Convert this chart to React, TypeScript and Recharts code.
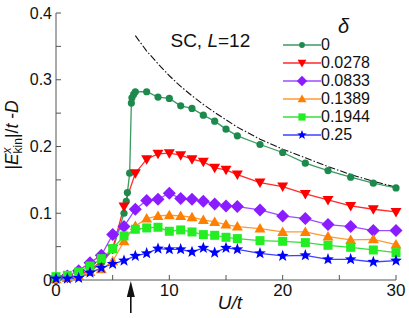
import React from "react";
import { LineChart, Line, XAxis, YAxis, Legend, ReferenceDot } from "recharts";

// U/t grid used by most doping levels
const U_GRID = [0, 1, 2, 3, 4, 5, 6, 7, 8, 9, 10, 11, 12, 13, 14, 15, 16, 18, 20, 22, 24, 26, 28, 30];
// half filling has extra points around the jump
const U_HALF = [0, 1, 2, 3, 4, 5, 6, 6.2, 6.3, 6.5, 6.65, 6.7, 6.85, 7, 8, 9, 10, 11, 12, 13, 14, 15, 16, 18, 20, 22, 24, 26, 28, 30];
const U_LIMIT = [7, 8, 9, 10, 11, 12, 13, 14, 15, 16, 18, 20, 22, 24, 26, 28, 30];

const D_0 = [0.002, 0.003, 0.007, 0.013, 0.025, 0.045, 0.1, 0.118, 0.131, 0.16, 0.265, 0.273, 0.278, 0.282, 0.282, 0.274, 0.272, 0.261, 0.257, 0.247, 0.238, 0.226, 0.216, 0.203, 0.191, 0.175, 0.164, 0.154, 0.145, 0.138];
const D_0278 = [0.001, 0.003, 0.007, 0.015, 0.028, 0.047, 0.11, 0.16, 0.181, 0.189, 0.19, 0.187, 0.181, 0.177, 0.168, 0.165, 0.158, 0.146, 0.14, 0.129, 0.12, 0.111, 0.106, 0.102];
const D_0833 = [0.002, 0.006, 0.014, 0.026, 0.037, 0.068, 0.08, 0.106, 0.119, 0.121, 0.13, 0.122, 0.121, 0.118, 0.114, 0.111, 0.11, 0.105, 0.096, 0.092, 0.083, 0.08, 0.074, 0.074];
const D_1389 = [0.001, 0.003, 0.006, 0.012, 0.016, 0.028, 0.058, 0.081, 0.092, 0.096, 0.097, 0.096, 0.094, 0.09, 0.087, 0.083, 0.08, 0.077, 0.072, 0.072, 0.065, 0.06, 0.061, 0.053];
const D_1944 = [0.005, 0.007, 0.012, 0.021, 0.032, 0.047, 0.066, 0.076, 0.078, 0.079, 0.073, 0.075, 0.072, 0.068, 0.067, 0.064, 0.062, 0.059, 0.058, 0.056, 0.052, 0.049, 0.045, 0.041];
const D_25 = [0.002, 0.002, 0.003, 0.011, 0.018, 0.024, 0.029, 0.036, 0.04, 0.047, 0.046, 0.046, 0.042, 0.048, 0.041, 0.048, 0.046, 0.04, 0.036, 0.037, 0.031, 0.031, 0.027, 0.029];
const LIMIT = [0.366, 0.343, 0.324, 0.306, 0.29, 0.276, 0.263, 0.251, 0.24, 0.229, 0.211, 0.196, 0.183, 0.17, 0.158, 0.148, 0.139];

const X_TICKS = [0, 5, 10, 15, 20, 25, 30];
const Y_TICKS = [0, 0.05, 0.1, 0.15, 0.2, 0.25, 0.3, 0.35, 0.4];

const FONT = "Liberation Sans, Arial, sans-serif";
const AXIS = "#555";

const pts = (us: number[], vs: number[]) => us.map((u, i) => ({ u, v: vs[i] }));

type Kind = "circle" | "down" | "diamond" | "up" | "square" | "star";

const SERIES: { name: string; data: { u: number; v: number }[]; kind: Kind; fill: string; line: string }[] = [
  { name: "0", data: pts(U_HALF, D_0), kind: "circle", fill: "#1c8a4c", line: "#3a9a62" },
  { name: "0.0278", data: pts(U_GRID, D_0278), kind: "down", fill: "#ff0000", line: "#ff2a2a" },
  { name: "0.0833", data: pts(U_GRID, D_0833), kind: "diamond", fill: "#8a1cff", line: "#9c4cff" },
  { name: "0.1389", data: pts(U_GRID, D_1389), kind: "up", fill: "#ff8000", line: "#ff9a33" },
  { name: "0.1944", data: pts(U_GRID, D_1944), kind: "square", fill: "#22ee22", line: "#3add3a" },
  { name: "0.25", data: pts(U_GRID, D_25), kind: "star", fill: "#0000ff", line: "#4040ff" },
];

function Marker({ cx, cy, kind, fill, s = 1 }: { cx: number; cy: number; kind: Kind; fill: string; s?: number }) {
  if (cx == null || cy == null) return null;
  switch (kind) {
    case "circle":
      return <circle cx={cx} cy={cy} r={3.6 * s} fill={fill} />;
    case "down":
      return <polygon points={`${cx - 5.5 * s},${cy - 4 * s} ${cx + 5.5 * s},${cy - 4 * s} ${cx},${cy + 5.5 * s}`} fill={fill} />;
    case "up":
      return <polygon points={`${cx - 5.5 * s},${cy + 4 * s} ${cx + 5.5 * s},${cy + 4 * s} ${cx},${cy - 5.5 * s}`} fill={fill} />;
    case "diamond":
      return <polygon points={`${cx},${cy - 6.5 * s} ${cx + 6.5 * s},${cy} ${cx},${cy + 6.5 * s} ${cx - 6.5 * s},${cy}`} fill={fill} />;
    case "square":
      return <rect x={cx - 4.5 * s} y={cy - 4.5 * s} width={9 * s} height={9 * s} fill={fill} />;
    case "star": {
      const p: string[] = [];
      for (let i = 0; i < 10; i++) {
        const r = (i % 2 === 0 ? 6.2 : 2.6) * s;
        const a = -Math.PI / 2 + (i * Math.PI) / 5;
        p.push(`${cx + r * Math.cos(a)},${cy + r * Math.sin(a)}`);
      }
      return <polygon points={p.join(" ")} fill={fill} />;
    }
  }
  return null;
}

function LegendBox() {
  return (
    <div style={{ fontFamily: FONT, fontSize: 16, color: "#111" }}>
      <div style={{ fontStyle: "italic", fontSize: 20, lineHeight: "20px", height: 20, paddingLeft: 55 }}>δ</div>
      {SERIES.map((s) => (
        <div key={s.name} style={{ display: "flex", alignItems: "center", height: 18, lineHeight: "18px" }}>
          <svg width={38} height={18} style={{ display: "block" }}>
            <line x1={0} y1={9} x2={38} y2={9} stroke={s.line} strokeWidth={1.4} />
            <Marker cx={19} cy={9} kind={s.kind} fill={s.fill} s={0.8} />
          </svg>
          <span>{s.name}</span>
        </div>
      ))}
    </div>
  );
}

const xFmt = (v: number) => (v % 10 === 0 ? String(v) : "");
const yFmt = (v: number) => (Math.abs(Math.round(v * 10) - v * 10) < 1e-6 ? String(Math.round(v * 10) / 10) : "");

export default function App() {
  return (
    <div style={{ position: "absolute", left: 0, top: 0, width: 409, height: 318, background: "#fff", fontFamily: FONT }}>
      <LineChart width={409} height={318} margin={{ top: 13, right: 13, left: 0, bottom: 0 }}>
        <XAxis
          dataKey="u"
          type="number"
          domain={[0, 30]}
          ticks={X_TICKS}
          tickFormatter={xFmt}
          height={38}
          tickSize={-5}
          tickMargin={9}
          stroke={AXIS}
          tick={{ fill: "#111", fontSize: 17, fontFamily: FONT }}
          label={{
            content: () => (
              <text x={230} y={309} textAnchor="middle" fontFamily={FONT} fontSize={19} fontStyle="italic" fill="#111">
                U/t
              </text>
            ),
          }}
          allowDuplicatedCategory={false}
        />
        <XAxis xAxisId="top" orientation="top" type="number" domain={[0, 30]} ticks={X_TICKS} height={0} tickSize={-5} tick={false} stroke={AXIS} />
        <YAxis
          type="number"
          domain={[0, 0.4]}
          ticks={Y_TICKS}
          tickFormatter={yFmt}
          width={56}
          tickSize={-5}
          tickMargin={9}
          stroke={AXIS}
          tick={{ fill: "#111", fontSize: 16, fontFamily: FONT }}
          label={{
            content: () => (
              <text transform="translate(18,135) rotate(-90)" textAnchor="middle" fontFamily={FONT} fontSize={17.5} fill="#111">
                <tspan>|</tspan>
                <tspan fontStyle="italic">E</tspan>
                <tspan fontSize={12} fontStyle="italic" dy={-7}>x</tspan>
                <tspan fontSize={12} dx={-6} dy={11}>kin</tspan>
                <tspan dy={-4}>|/</tspan>
                <tspan fontStyle="italic">t</tspan>
                <tspan> -</tspan>
                <tspan fontStyle="italic">D</tspan>
              </text>
            ),
          }}
        />
        <YAxis yAxisId="right" orientation="right" type="number" domain={[0, 0.4]} ticks={Y_TICKS} width={0} tickSize={-5} tick={false} stroke={AXIS} />

        <Line
          data={pts(U_LIMIT, LIMIT)}
          dataKey="v"
          stroke="#111"
          strokeWidth={1.1}
          strokeDasharray="7 2 1.5 2"
          dot={false}
          isAnimationActive={false}
          legendType="none"
        />
        {SERIES.map((s) => (
          <Line
            key={s.name}
            name={s.name}
            data={s.data}
            dataKey="v"
            stroke={s.line}
            strokeWidth={1.3}
            isAnimationActive={false}
            dot={(p: any) => <Marker key={`${s.name}-${p.index}`} cx={p.cx} cy={p.cy} kind={s.kind} fill={s.fill} />}
          />
        ))}

        <ReferenceDot
          x={10.1}
          y={0.349}
          ifOverflow="visible"
          shape={(p: any) => (
            <text x={p.cx} y={p.cy} fontFamily={FONT} fontSize={19} fill="#111">
              SC, <tspan fontStyle="italic">L</tspan>=12
            </text>
          )}
        />
        <ReferenceDot
          x={6.6}
          y={0}
          ifOverflow="visible"
          shape={(p: any) => (
            <g>
              <polygon points={`${p.cx},${p.cy + 1} ${p.cx - 4},${p.cy + 17} ${p.cx + 4},${p.cy + 17}`} fill="#111" />
              <line x1={p.cx} y1={p.cy + 14} x2={p.cx} y2={p.cy + 33} stroke="#111" strokeWidth={1.6} />
            </g>
          )}
        />

        <Legend
          layout="vertical"
          align="center"
          verticalAlign="middle"
          content={() => <LegendBox />}
          wrapperStyle={{ left: 283, top: 16, width: 110, height: 130 }}
        />
      </LineChart>
    </div>
  );
}
